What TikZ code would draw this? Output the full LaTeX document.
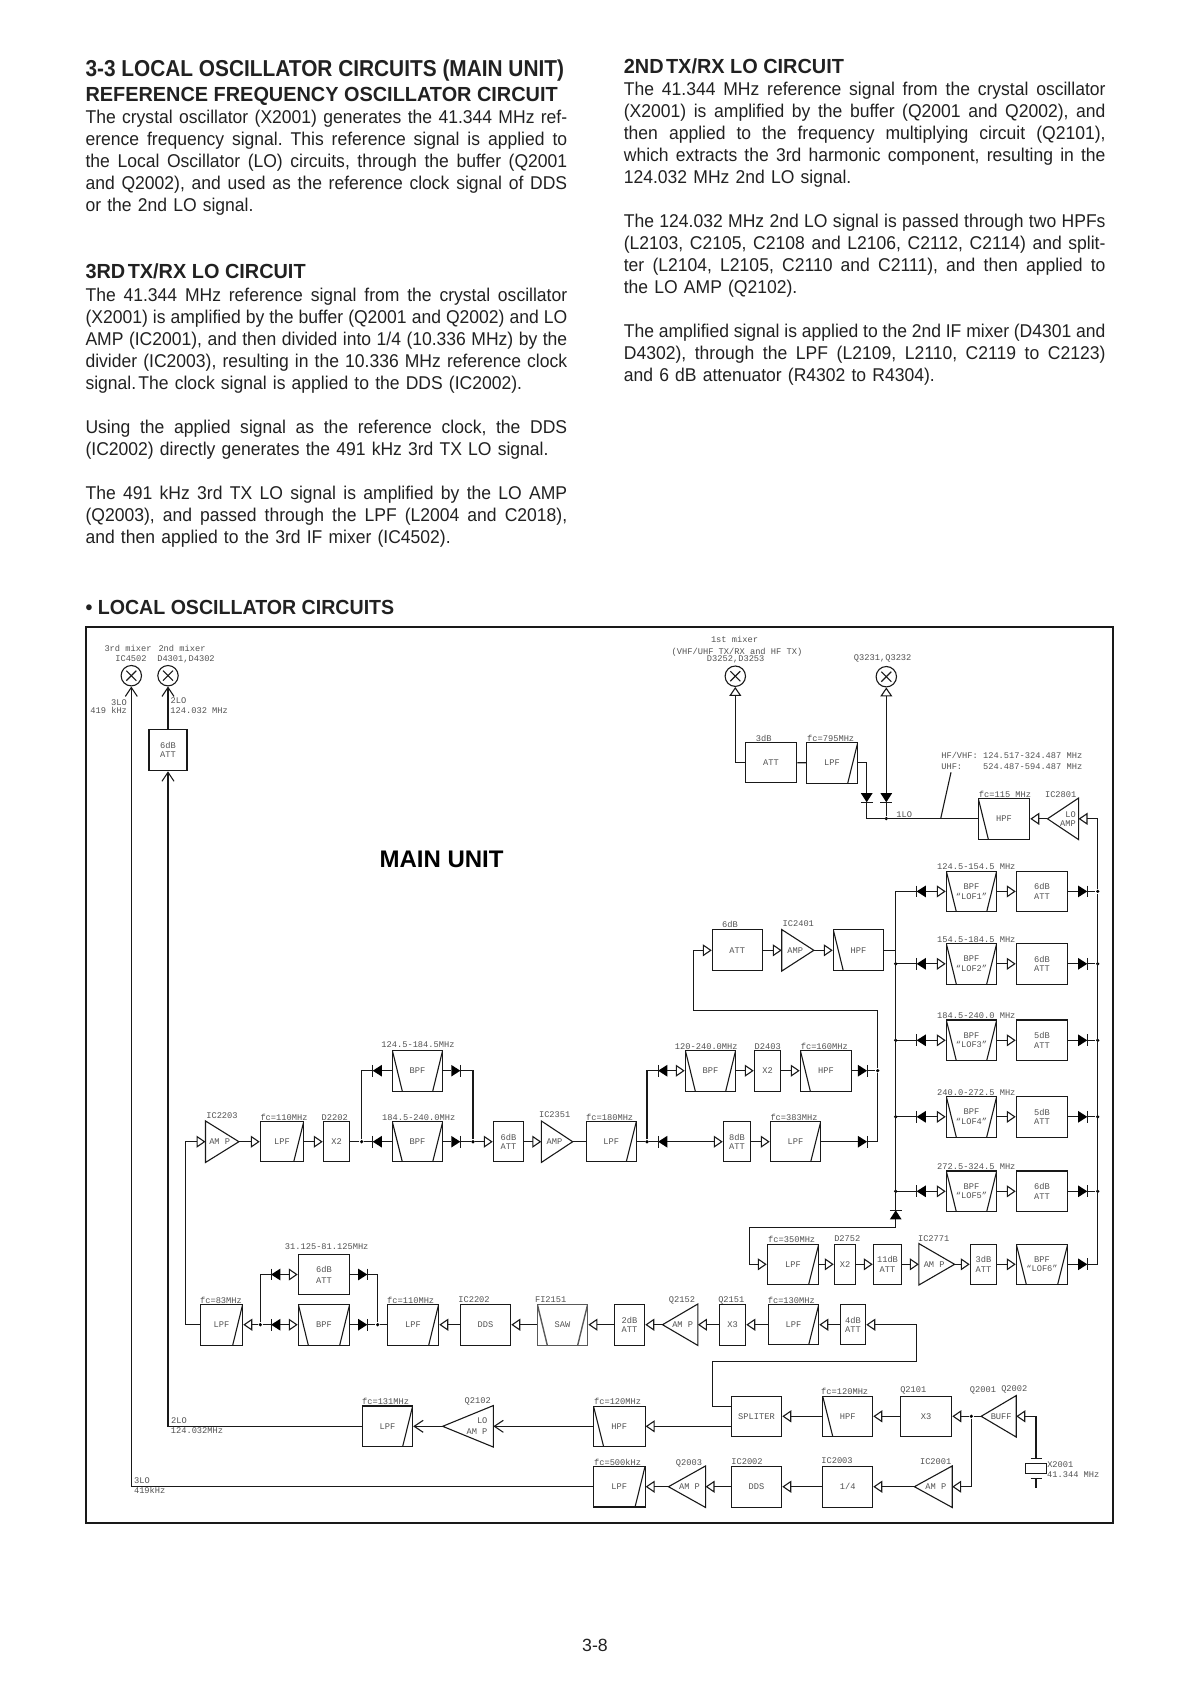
\documentclass[tikz,border=0pt]{standalone}
\usepackage{fontspec}
\setmainfont{Liberation Sans}
\setmonofont{Liberation Mono}
\newfontfamily\bodyfam[FakeStretch=0.948]{Liberation Sans}
\newfontfamily\headfam[FakeStretch=0.975]{Liberation Sans}
\usetikzlibrary{arrows.meta}

\newcommand{\bodyfont}{\bodyfam\frenchspacing\fontsize{18.5}{22}\selectfont}
\newcommand{\headfont}{\headfam\fontsize{20.4}{22}\selectfont\bfseries}
% one justified line of the column: the gap between words is worked out by hand
\newlength{\jlw}
\newlength{\jltmp}
\newlength{\jlgap}
\newcount\jlc
\def\jlcount#1 #2\jlend{\advance\jlc by 1 \settowidth{\jltmp}{#1}\advance\jlw by \jltmp
  \ifx\relax#2\relax\else\jlcount#2\jlend\fi}
\def\jlput#1 #2\jlend{#1\ifx\relax#2\relax\else\hskip\jlgap\relax\jlput#2\jlend\fi}
\newcommand{\jl}[1]{\leavevmode\setlength{\jlw}{0pt}\jlc=0 \jlcount#1 \jlend\advance\jlc by -1
  \setlength{\jlgap}{481.7pt}\advance\jlgap by -\jlw \divide\jlgap by \jlc
  \hbox{\rule{0pt}{14pt}\jlput#1 \jlend}\\}

\tikzset{
  para/.style={anchor=north west, inner sep=0pt, text width=481.7pt, align=left, font=\bodyfont, text=black!87},
  heading/.style={anchor=base west, inner sep=0pt, font=\headfont, text=black!87},
  tag/.style={inner sep=0pt, text height=5.6pt, text depth=0pt, text=black!68,
    font=\ttfamily\fontsize{8.7}{9.6}\selectfont},
  blocktext/.style={text=black!68, font=\ttfamily\fontsize{8.7}{9.6}\selectfont, align=center},
  blockbox/.style={rectangle, draw, inner sep=0pt, minimum width=51pt, minimum height=40.6pt, blocktext},
  lpfbox/.style={blockbox, path picture={
    \draw (path picture bounding box.north east) -- ([xshift=-10pt]path picture bounding box.south east);}},
  hpfbox/.style={blockbox, path picture={
    \draw (path picture bounding box.north west) -- ([xshift=10pt]path picture bounding box.south west);}},
  bpfbox/.style={blockbox, path picture={
    \draw (path picture bounding box.north east) -- ([xshift=-10pt]path picture bounding box.south east);
    \draw (path picture bounding box.north west) -- ([xshift=10pt]path picture bounding box.south west);}},
  ampright/.style={rectangle, inner sep=0pt, minimum height=40.4pt, blocktext,
    execute at end node={\hspace*{5pt}},
    append after command={\pgfextra{\let\LN\tikzlastnode
      \draw (\LN.north west) -- (\LN.east) -- (\LN.south west) -- cycle;}}},
  ampleft/.style={rectangle, inner sep=0pt, minimum height=40.4pt, blocktext,
    execute at begin node={\hspace*{5pt}},
    append after command={\pgfextra{\let\LN\tikzlastnode
      \draw (\LN.north east) -- (\LN.west) -- (\LN.south east) -- cycle;}}},
  diodeL/.style={rectangle, inner sep=0pt, minimum width=8pt, minimum height=10.6pt,
    append after command={\pgfextra{\let\LN\tikzlastnode
      \fill (\LN.north east) -- (\LN.west) -- (\LN.south east) -- cycle;
      \draw (\LN.north west) -- (\LN.south west);}}},
  diodeR/.style={rectangle, inner sep=0pt, minimum width=8pt, minimum height=10.6pt,
    append after command={\pgfextra{\let\LN\tikzlastnode
      \fill (\LN.north west) -- (\LN.east) -- (\LN.south west) -- cycle;
      \draw (\LN.north east) -- (\LN.south east);}}},
  diodeD/.style={rectangle, inner sep=0pt, minimum width=10.6pt, minimum height=8pt,
    append after command={\pgfextra{\let\LN\tikzlastnode
      \fill (\LN.north west) -- (\LN.south) -- (\LN.north east) -- cycle;
      \draw (\LN.south west) -- (\LN.south east);}}},
  diodeU/.style={rectangle, inner sep=0pt, minimum width=10.6pt, minimum height=8pt,
    append after command={\pgfextra{\let\LN\tikzlastnode
      \fill (\LN.south west) -- (\LN.north) -- (\LN.south east) -- cycle;
      \draw (\LN.north west) -- (\LN.north east);}}},
  mixer/.style={circle, draw, inner sep=0pt, minimum size=20.4pt, path picture={
    \draw ([shift={(-5pt,-5pt)}]path picture bounding box.center) -- ([shift={(5pt,5pt)}]path picture bounding box.center);
    \draw ([shift={(-5pt,5pt)}]path picture bounding box.center) -- ([shift={(5pt,-5pt)}]path picture bounding box.center);}},
  jdot/.style={circle, fill, inner sep=0pt, minimum size=3.6pt},
  opentip/.style={-{Triangle[open,length=9pt,width=12pt]}},
  vtip/.style={-{Straight Barb[length=9pt,width=12pt]}}
}

\begin{document}
\begin{tikzpicture}[x=1pt, y=-1pt, line width=1.1pt, draw=black!90]
  \useasboundingbox (0,0) rectangle (1190,1684);

  % text, left column
  \node[heading, font=\fontsize{23}{24}\selectfont\bfseries] (sectitle) at (85,76.7)
    {\scalebox{0.906}[1]{3-3 LOCAL OSCILLATOR CIRCUITS (MAIN UNIT)}};
  \node[heading] (refhead) at (85,101) {REFERENCE FREQUENCY OSCILLATOR CIRCUIT};
  \node[para] (refpara) at (85,109.3) {\jl{The crystal oscillator (X2001) generates the 41.344 MHz ref-}
    \jl{erence frequency signal. This reference signal is applied to}
    \jl{the Local Oscillator (LO) circuits, through the buffer (Q2001}
    \jl{and Q2002), and used as the reference clock signal of DDS}
    or the 2nd LO signal.};
  \node[heading] (thirdhead) at (85,278.7) {3RD\hspace{0.12em}TX/RX LO CIRCUIT};
  \node[para] (thirdparaA) at (85,287.3) {\jl{The 41.344 MHz reference signal from the crystal oscillator}
    \jl{(X2001) is amplified by the buffer (Q2001 and Q2002) and LO}
    \jl{AMP (IC2001), and then divided into 1/4 (10.336 MHz) by the}
    \jl{divider (IC2003), resulting in the 10.336 MHz reference clock}
    signal.\hspace{0.12em}The clock signal is applied to the DDS (IC2002).};
  \node[para] (thirdparaB) at (85,419.3) {\jl{Using the applied signal as the reference clock, the DDS}
    (IC2002) directly generates the 491 kHz 3rd TX LO signal.};
  \node[para] (thirdparaC) at (85,485.3) {\jl{The 491 kHz 3rd TX LO signal is amplified by the LO AMP}
    \jl{(Q2003), and passed through the LPF (L2004 and C2018),}
    and then applied to the 3rd IF mixer (IC4502).};

  % text, right column
  \node[heading] (secondhead) at (623.3,73.3) {2ND\hspace{0.12em}TX/RX LO CIRCUIT};
  \node[para] (secondparaA) at (623.3,81.3) {\jl{The 41.344 MHz reference signal from the crystal oscillator}
    \jl{(X2001) is amplified by the buffer (Q2001 and Q2002), and}
    \jl{then applied to the frequency multiplying circuit (Q2101),}
    \jl{which extracts the 3rd harmonic component, resulting in the}
    124.032 MHz 2nd LO signal.};
  \node[para] (secondparaB) at (623.3,213.3) {\jl{The 124.032 MHz 2nd LO signal is passed through two HPFs}
    \jl{(L2103, C2105, C2108 and L2106, C2112, C2114) and split-}
    \jl{ter (L2104, L2105, C2110 and C2111), and then applied to}
    the LO AMP (Q2102).};
  \node[para] (secondparaC) at (623.3,323.3) {\jl{The amplified signal is applied to the 2nd IF mixer (D4301 and}
    \jl{D4302), through the LPF (L2109, L2110, C2119 to C2123)}
    and 6 dB attenuator (R4302 to R4304).};

  \node[heading] (diaghead) at (85,614.7) {\scalebox{0.985}[1]{• LOCAL OSCILLATOR CIRCUITS}};
  \node[inner sep=0pt, anchor=base, font=\fontsize{17.7}{18}\selectfont, text=black!87] (pagenum) at (595,1651) {3-8};

  % frame
  \draw[line width=2.2pt] (86,627) rectangle (1113,1523);
  \node[inner sep=0pt, font=\fontsize{24}{26}\selectfont\bfseries] (mainunit) at (441.6,859.3) {MAIN UNIT};

  % mixers and 1LO part
  \node[mixer] (mixthree) at (131.3,675.7) {};
  \node[mixer] (mixtwo) at (168,675.7) {};
  \node[blockbox, minimum width=38pt, minimum height=41.4pt] (attlo) at (168,750) {6dB\\ATT};
  \node[mixer] (mixone) at (735.3,676.2) {};
  \node[mixer] (mixq) at (886.3,676.7) {};
  \node[blockbox, minimum width=51.4pt] (attthree) at (771,762.5) {ATT};
  \node[lpfbox, minimum width=51.4pt] (lpfsvn) at (832,763) {LPF};
  \node[diodeD] (dioa) at (866.7,797.7) {};
  \node[diodeD] (diob) at (886.3,797.7) {};
  \node[jdot] (jlo) at (886.3,818.5) {};
  \coordinate (ticka) at (940.7,818.5);
  \coordinate (tickb) at (951,772.3);
  \node[hpfbox, minimum width=51.4pt] (hpfone) at (1004,818.8) {HPF};
  \node[ampleft, minimum width=30pt] (amplo) at (1063,818.8) {\hspace*{5pt}\shortstack[r]{LO\\AMP}};

  \draw[opentip] (attthree) -| (mixone);
  \draw (attthree) -- (lpfsvn);
  \draw (lpfsvn.east |- attthree) -| (dioa);
  \draw (dioa) |- (hpfone);
  \draw[opentip] (diob) -- (mixq);
  \draw (diob) -- (jlo);
  \draw (ticka) -- (tickb);
  \draw[opentip] (amplo) -- (hpfone);

  % LOF rows
  \foreach \n/\y/\rng/\db in {
    1/891.4/124.5-154.5/6dB, 2/963.8/154.5-184.5/6dB, 3/1040.3/184.5-240.0/5dB,
    4/1116.8/240.0-272.5/5dB, 5/1191.3/272.5-324.5/6dB} {
    \coordinate (lofL\n) at (895.7,\y);
    \node[diodeL] (lofdL\n) at (921.2,\y) {};
    \node[bpfbox, minimum width=50.4pt] (lofbpf\n) at (971.5,\y) {BPF\\“LOF\n”};
    \node[blockbox, minimum width=51.4pt] (lofatt\n) at (1042,\y) {\db\\ATT};
    \node[diodeR] (lofdR\n) at (1082.7,\y) {};
    \node[jdot] (lofR\n) at (1097.7,\y) {};
    \node[tag] (lofrng\n) at (976.3,\y-24.3) {\rng{} MHz};
    \draw (lofL\n) -- (lofdL\n);
    \draw[opentip] (lofdL\n) -- (lofbpf\n);
    \draw[opentip] (lofbpf\n) -- (lofatt\n);
    \draw (lofatt\n) -- (lofdR\n) -- (lofR\n);
  }
  \foreach \n in {2,...,5}
    \node[jdot] (dotL\n) at (lofL\n) {};

  % LOF6 row
  \node[diodeU] (diou) at (895.7,1214.8) {};
  \coordinate (cupa) at (895.7,1227.3);
  \coordinate (cupb) at (749.7,1227.3);
  \node[lpfbox, minimum width=51.4pt, minimum height=40pt] (lpfthree) at (793,1264.3) {LPF};
  \node[blockbox, minimum width=21.4pt, minimum height=40pt] (xtwob) at (845,1264.3) {X2};
  \node[blockbox, minimum width=28.4pt, minimum height=40pt] (atteleven) at (887.5,1264.3) {11dB\\ATT};
  \node[ampright, minimum width=34.7pt] (ampsevn) at (936.7,1264.3) {AM P};
  \node[blockbox, minimum width=26.4pt, minimum height=40pt] (attthreeb) at (983.5,1264.3) {3dB\\ATT};
  \node[bpfbox, minimum width=51.4pt, minimum height=40pt] (lofbpf6) at (1042,1264.3) {BPF\\“LOF6”};
  \node[diodeR] (lofdR6) at (1082.7,1264.3) {};

  \draw (lofL1) -- (diou);
  \draw (diou) -- (cupa) -- (cupb);
  \draw[opentip] (cupb) |- (lpfthree);
  \foreach \a/\b in {lpfthree/xtwob, xtwob/atteleven, atteleven/ampsevn, ampsevn/attthreeb, attthreeb/lofbpf6}
    \draw[opentip] (\a) -- (\b);
  \draw (lofbpf6) -- (lofdR6);
  \draw (lofdR6) -| (lofR1);
  \draw[opentip] (lofR1) |- (amplo);

  % 6dB ATT, IC2401, HPF
  \node[blockbox, minimum width=50pt, minimum height=41pt] (attsix) at (737.3,950.3) {ATT};
  \node[ampright, minimum width=31pt] (ampfour) at (797.8,950.3) {AMP};
  \node[hpfbox, minimum width=50.4pt, minimum height=41pt] (hpftwo) at (858.5,950.3) {HPF};
  \coordinate (hbus) at (895.7,950.3);
  \coordinate (cleft) at (693.3,1010.3);
  \coordinate (cright) at (877.7,1010.3);
  \draw[opentip] (attsix) -- (ampfour);
  \draw[opentip] (ampfour) -- (hpftwo);
  \draw (hpftwo) -- (hbus);

  % X2 and 8dB branches
  \node[jdot] (jsplit) at (647,1141.7) {};
  \node[diodeL] (dlup) at (662.7,1070.7) {};
  \node[bpfbox, minimum width=50.4pt, minimum height=41pt] (bpfmid) at (710.5,1070.7) {BPF};
  \node[blockbox, minimum width=26.4pt, minimum height=41pt] (xtwoc) at (767.5,1070.7) {X2};
  \node[hpfbox, minimum width=51.4pt, minimum height=41pt] (hpfmid) at (826,1070.7) {HPF};
  \node[diodeR] (drup) at (862.5,1070.7) {};
  \node[jdot] (jmerge) at (877.7,1070.7) {};
  \node[diodeL] (dllow) at (662.7,1141.7) {};
  \node[blockbox, minimum width=27.4pt, minimum height=40pt] (atteight) at (737,1141.7) {8dB\\ATT};
  \node[lpfbox, minimum width=50.4pt, minimum height=40pt] (lpfmid) at (795.5,1141.7) {LPF};
  \node[diodeR] (drlow) at (862.5,1141.7) {};

  \draw (jsplit) |- (dlup);
  \draw (jsplit) -- (dllow);
  \foreach \a/\b in {dlup/bpfmid, bpfmid/xtwoc, xtwoc/hpfmid, dllow/atteight, atteight/lpfmid}
    \draw[opentip] (\a) -- (\b);
  \draw (hpfmid) -- (drup) -- (jmerge);
  \draw (lpfmid) -- (drlow);
  \draw (drlow) -| (jmerge);
  \draw (jmerge) -- (cright) -- (cleft);
  \draw[opentip] (cleft) |- (attsix);

  % IC2203 row
  \coordinate (cturn) at (185.7,1141.7);
  \node[ampright, minimum width=32.3pt] (ampto) at (222.2,1141.7) {AM P};
  \node[lpfbox, minimum width=43.4pt, minimum height=40pt] (lpfa) at (282,1141.7) {LPF};
  \node[blockbox, minimum width=26.4pt, minimum height=40pt] (xtwoa) at (336.5,1141.7) {X2};
  \node[jdot] (jaa) at (361.7,1141.7) {};
  \node[diodeL] (dlb) at (377.3,1141.7) {};
  \node[bpfbox, minimum width=50.4pt, minimum height=40pt] (bpfb) at (417.5,1141.7) {BPF};
  \node[diodeR] (drb) at (455.8,1141.7) {};
  \node[jdot] (jab) at (473,1141.7) {};
  \node[diodeL] (dlt) at (377.3,1070.7) {};
  \node[bpfbox, minimum width=50.4pt, minimum height=41pt] (bpft) at (417.5,1070.7) {BPF};
  \node[diodeR] (drt) at (455.8,1070.7) {};
  \node[blockbox, minimum width=30.4pt, minimum height=40pt] (attc) at (508.5,1141.7) {6dB\\ATT};
  \node[ampright, minimum width=30.3pt] (ampsc) at (557,1141.7) {AMP};
  \node[lpfbox, minimum width=50pt, minimum height=40pt] (lpfb) at (611.3,1141.7) {LPF};

  \foreach \a/\b in {ampto/lpfa, lpfa/xtwoa, jab/attc, attc/ampsc}
    \draw[opentip] (\a) -- (\b);
  \draw (xtwoa) -- (jaa) -- (dlb) -- (bpfb) -- (drb) -- (jab);
  \draw (jaa) |- (dlt);
  \draw (dlt) -- (bpft) -- (drt);
  \draw (drt) -| (jab);
  \draw (ampsc) -- (lpfb) -- (jsplit);

  % bottom row, right to left
  \node[lpfbox, minimum width=42.4pt, minimum height=41pt] (lpfc) at (221.5,1324.7) {LPF};
  \node[jdot] (jca) at (260.3,1324.7) {};
  \node[diodeL] (dlc) at (275.7,1324.7) {};
  \node[bpfbox, minimum width=51.4pt, minimum height=41pt] (bpfc) at (324,1324.7) {BPF};
  \node[diodeR] (drc) at (362.7,1324.7) {};
  \node[jdot] (jcb) at (377.7,1324.7) {};
  \node[diodeL] (dld) at (275.7,1274.5) {};
  \node[blockbox, minimum width=51.4pt, minimum height=40.4pt] (attd) at (324,1274.5) {6dB\\[1.5pt]ATT};
  \node[diodeR] (drd) at (362.7,1274.5) {};
  \node[lpfbox, minimum width=51.4pt, minimum height=41pt] (lpfd) at (413,1324.7) {LPF};
  \node[blockbox, minimum width=50.4pt, minimum height=41pt] (ddsa) at (485.5,1324.7) {DDS};
  \node[bpfbox, minimum width=50.4pt, minimum height=41pt, draw=black!65, line width=1.4pt] (saw) at (562.5,1324.7) {SAW};
  \node[blockbox, minimum width=30.4pt, minimum height=41pt] (atte) at (629.5,1324.7) {2dB\\ATT};
  \node[ampleft, minimum width=34.3pt] (ampq) at (680.2,1324.7) {AM P};
  \node[blockbox, minimum width=26.4pt, minimum height=41pt] (xthree) at (732.5,1324.7) {X3};
  \node[lpfbox, minimum width=50.4pt, minimum height=40pt] (lpfe) at (793.5,1324.7) {LPF};
  \node[blockbox, minimum width=25.4pt, minimum height=40pt] (attf) at (853,1324.7) {4dB\\ATT};

  \draw[opentip] (lpfc) -| (cturn) -- (ampto);
  \draw[opentip] (jca) -- (lpfc);
  \draw (jca) -- (dlc);
  \draw[opentip] (dlc) -- (bpfc);
  \draw (bpfc) -- (drc) -- (jcb);
  \draw (jca) |- (dld);
  \draw[opentip] (dld) -- (attd);
  \draw (attd) -- (drd);
  \draw (drd) -| (jcb);
  \draw (lpfd) -- (jcb);
  \foreach \a/\b in {ddsa/lpfd, saw/ddsa, atte/saw, ampq/atte, xthree/ampq, lpfe/xthree, attf/lpfe}
    \draw[opentip] (\a) -- (\b);

  % splitter row
  \node[blockbox, minimum width=50.4pt, minimum height=40pt] (spliter) at (756.5,1416.3) {SPLITER};
  \coordinate (spin) at (731.3,1406.3);
  \coordinate (spout) at (731.3,1426.3);
  \coordinate (csa) at (712.7,1361.3);
  \coordinate (csb) at (916.7,1361.3);
  \node[hpfbox, minimum width=50pt, minimum height=40pt] (hpfa) at (847.7,1416.3) {HPF};
  \node[blockbox, minimum width=51.4pt, minimum height=40pt] (xthreeb) at (926,1416.3) {X3};
  \node[jdot] (jbuf) at (971.3,1416.3) {};
  \node[ampleft, minimum width=34pt] (ampbuf) at (998.7,1416.3) {BUFF};
  \node[draw, rectangle, inner sep=0pt, minimum width=21.4pt, minimum height=10pt] (xtal) at (1036,1468.3) {};
  \coordinate (xtop) at (1036,1458.3);
  \coordinate (xbot) at (1036,1478.3);
  \coordinate (xend) at (1036,1488.3);

  \draw[opentip] (spin) -| (csa) -- (csb) |- (attf);
  \foreach \a/\b in {jbuf/xthreeb, xthreeb/hpfa, hpfa/spliter}
    \draw[opentip] (\a) -- (\b);
  \draw (ampbuf) -- (jbuf);
  \draw[opentip] (xtop) |- (ampbuf);
  \draw ([xshift=-5.5pt]xtop) -- ([xshift=5.5pt]xtop);
  \draw ([xshift=-5.5pt]xbot) -- ([xshift=5.5pt]xbot);
  \draw (xbot) -- (xend);

  % 2LO row
  \node[hpfbox, minimum width=51.5pt, minimum height=40pt] (hpfb) at (619.3,1426.3) {HPF};
  \node[ampleft, minimum width=49.6pt] (amplob) at (468,1426.3) {\hspace*{13pt}\shortstack[r]{LO\\[2pt]AM P}};
  \node[lpfbox, minimum width=50.3pt] (lpfg) at (387.5,1426.3) {LPF};
  \draw[opentip] (spout) -- (hpfb);
  \draw[vtip] (hpfb) -- (amplob);
  \draw[vtip] (amplob) -- (lpfg);
  \draw[vtip] (lpfg) -| (attlo);
  \draw[vtip] (attlo) -- (mixtwo);

  % 3LO row
  \node[ampleft, minimum width=36.7pt] (ampic) at (933.3,1486.7) {AM P};
  \node[blockbox, minimum width=50pt, minimum height=41pt] (divider) at (847.7,1486.7) {1/4};
  \node[blockbox, minimum width=50.4pt, minimum height=41pt] (ddsb) at (756.5,1486.7) {DDS};
  \node[ampleft, minimum width=36pt] (ampqb) at (687,1486.7) {AM P};
  \node[lpfbox, minimum width=51.5pt] (lpfh) at (619.3,1486.7) {LPF};
  \draw[opentip] (jbuf) |- (ampic);
  \foreach \a/\b in {ampic/divider, divider/ddsb, ddsb/ampqb, ampqb/lpfh}
    \draw[opentip] (\a) -- (\b);
  \draw[vtip] (lpfh) -| (mixthree);

  % labels
  \foreach \x/\y/\lbl [count=\k] in {
    128/648.3/3rd mixer, 182/648.3/2nd mixer, 131/659/IC4502, 186/659/{D4301,D4302},
    119/702.7/3LO, 108.7/711/419 kHz, 178.5/700.3/2LO, 199.2/710.3/124.032 MHz,
    734.5/640/1st mixer, 737/651.5/{(VHF/UHF TX/RX and HF TX)}, 735.7/659/{D3252,D3253}, 882.7/658/{Q3231,Q3232},
    763.7/738.3/3dB, 830.7/738.3/fc=795MHz, 904.3/814.3/1LO,
    1011.8/755.3/{HF/VHF: 124.517-324.487 MHz}, 1011.8/766.3/{UHF:\ \ \ \ 524.487-594.487 MHz},
    1005/794.3/fc=115 MHz, 1060.7/794.3/IC2801, 730/925/6dB, 798.3/923.3/IC2401,
    706.3/1046.3/120-240.0MHz, 767.7/1046.3/D2403, 824.3/1046.3/fc=160MHz, 794/1117.3/fc=383MHz,
    791.7/1239.3/fc=350MHz, 847.3/1238.3/D2752, 933.7/1238.3/IC2771,
    222/1115.3/IC2203, 284/1117.3/fc=110MHz, 334.7/1117.3/D2202, 418/1044.3/124.5-184.5MHz,
    418.7/1117.3/184.5-240.0MHz, 554.7/1114.7/IC2351, 609.7/1117.3/fc=180MHz,
    326.7/1246.3/31.125-81.125MHz, 221/1300.3/fc=83MHz, 410.7/1300.3/fc=110MHz, 474/1299.3/IC2202,
    550.7/1299.3/FI2151, 682/1300/Q2152, 731.3/1299.3/Q2151, 791.3/1300.3/fc=130MHz,
    844.7/1391.7/fc=120MHz, 913.3/1389.3/Q2101, 983/1389.3/Q2001, 1014.3/1388.3/Q2002,
    1060.3/1464.7/X2001, 1073.3/1474.3/41.344 MHz,
    385.6/1401.7/fc=131MHz, 477.7/1400.7/Q2102, 617.6/1401.7/fc=120MHz, 179/1420.7/2LO, 197/1430.3/124.032MHz,
    617.6/1462.3/fc=500kHz, 689/1462.3/Q2003, 747/1461.3/IC2002, 837/1460.3/IC2003, 935.7/1461.3/IC2001,
    142/1480.7/3LO, 149.7/1490.7/419kHz}
    \node[tag] (tag\k) at (\x,\y) {\lbl};
\end{tikzpicture}
\end{document}
